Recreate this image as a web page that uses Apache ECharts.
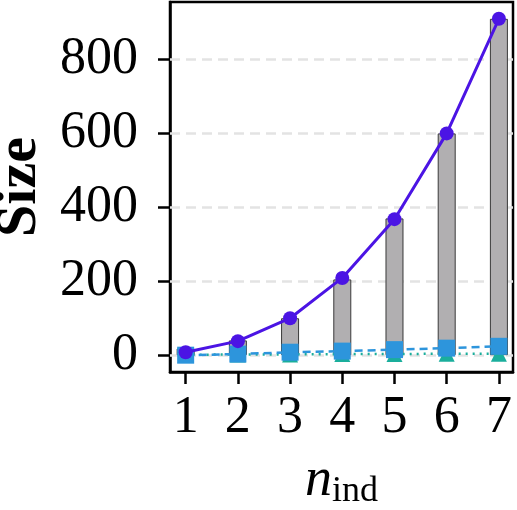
<!DOCTYPE html>
<html>
<head>
<meta charset="utf-8">
<script src="https://cdn.jsdelivr.net/npm/echarts@6/dist/echarts.min.js"></script>
<style>
  html, body { margin: 0; padding: 0; background: #fff; }
  #chart { width: 517px; height: 510px; }
</style>
</head>
<body>
<div id="chart"></div>
<script>
// n_ind values and the sizes
const nInd = [1, 2, 3, 4, 5, 6, 7]
const totalSize = [18, 40, 100, 205, 370, 600, 910]
const lineSize = [8, 38, 100, 209, 368, 600, 910]
const blueSize = [0, 3, 8, 11, 15, 19, 24]
const tealSize = [1, 2, 2, 3, 3, 4, 4]
const yTicks = [0, 200, 400, 600, 800]

const font = 'Liberation Serif'
const pairs = arr => nInd.map((n, i) => [n, arr[i]])
const xMin = 0.7
const yMin = -45.5

const chart = echarts.init(document.getElementById('chart'))
chart.setOption({
  animation: false,
  grid: {
    left: 170, right: 4, top: 2, bottom: 138,
    outerBoundsMode: 'none',
    containLabel: false,
    show: true, borderColor: '#000', borderWidth: 2.5, backgroundColor: 'transparent'
  },
  xAxis: {
    type: 'value', min: xMin, max: 7.27,
    position: 'bottom',
    axisLine: { show: true, onZero: false, lineStyle: { color: '#000', width: 2.5 } },
    splitLine: { show: false },
    axisTick: { show: true, inside: false, length: 12, lineStyle: { color: '#000', width: 2.5 }, customValues: nInd },
    axisLabel: { margin: 20, fontFamily: font, fontSize: 52, color: '#000', customValues: nInd },
    name: '{n|n}{s|ind}',
    nameLocation: 'middle',
    nameGap: 80,
    nameTextStyle: {
      rich: {
        n: { fontFamily: font, fontStyle: 'italic', fontSize: 54, color: '#000' },
        s: { fontFamily: font, fontSize: 36, color: '#000', padding: [22, 0, 0, 0] }
      }
    }
  },
  yAxis: {
    type: 'value', min: yMin, max: 955.5,
    position: 'left',
    axisLine: { show: true, onZero: false, lineStyle: { color: '#000', width: 2.5 } },
    splitLine: { show: false },
    axisTick: { show: true, inside: false, length: 12, lineStyle: { color: '#000', width: 2.5 }, customValues: yTicks },
    axisLabel: { margin: 32, fontFamily: font, fontSize: 52, color: '#000', customValues: yTicks },
    name: 'Size',
    nameLocation: 'middle',
    nameRotate: 90,
    nameGap: 116,
    nameTextStyle: { fontFamily: font, fontWeight: 'bold', fontSize: 58, color: '#000' }
  },
  series: [
    {
      type: 'bar',
      data: pairs(totalSize),
      barWidth: 18,
      itemStyle: { color: '#b1afb1', borderColor: '#3a3a3a', borderWidth: 1 },
      z: 2,
      markLine: {
        silent: true,
        symbol: 'none',
        label: { show: false },
        lineStyle: { color: '#e3e3e3', type: [10, 6], width: 2.5 },
        data: yTicks.map(v => ({ yAxis: v })),
        z: 1
      }
    },
    {
      type: 'line',
      data: pairs(tealSize),
      symbol: 'triangle',
      symbolSize: 16,
      lineStyle: { color: '#1aae9c', width: 2.5, type: [2, 5] },
      itemStyle: { color: '#1aae9c' },
      z: 3
    },
    {
      type: 'line',
      data: pairs(blueSize),
      symbol: 'rect',
      symbolSize: 17,
      lineStyle: { color: '#2d95dc', width: 2.5, type: [8, 5] },
      itemStyle: { color: '#2d95dc' },
      z: 4
    },
    {
      type: 'line',
      data: pairs(lineSize),
      symbol: 'circle',
      symbolSize: 14,
      lineStyle: { color: '#4b14e4', width: 3 },
      itemStyle: { color: '#4b14e4' },
      z: 5
    }
  ]
})
</script>
</body>
</html>
